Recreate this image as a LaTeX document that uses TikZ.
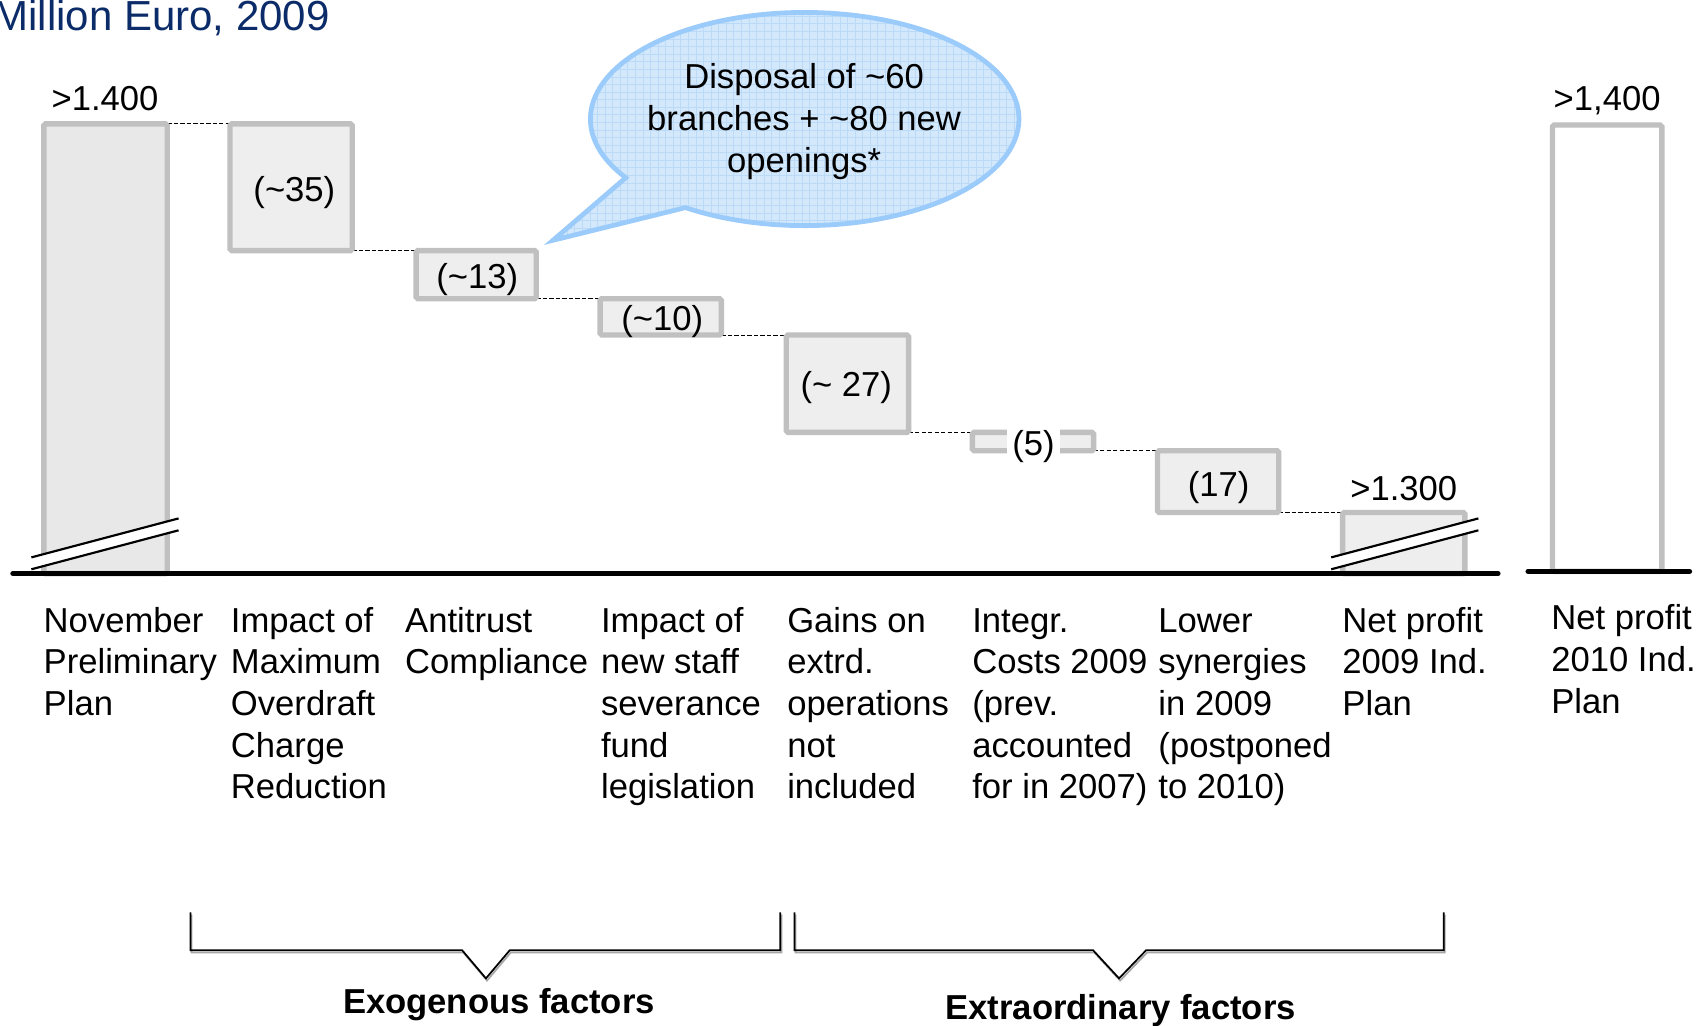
\documentclass[tikz,border=0pt]{standalone}
\usepackage{fontspec}
\setmainfont{Liberation Sans}
\usetikzlibrary{fit,backgrounds}

\definecolor{barline}{HTML}{C0C0C0}
\definecolor{barfill}{HTML}{E8E8E8}
\definecolor{boxfill}{HTML}{EEEEEE}
\definecolor{navy}{HTML}{0B2C69}
\definecolor{bubfill}{HTML}{D4E8FC}
\definecolor{bubgrid}{HTML}{BBDAF8}
\definecolor{bubline}{HTML}{9ACBFA}
\newcommand\mytilde{\textasciitilde}

\begin{document}
\begin{tikzpicture}[x=0.5pt,y=-0.5pt,
  wbox/.style={draw=barline, line width=2.5pt, fill=boxfill, inner sep=0pt,
               outer sep=0pt, rounded corners=0.8pt},
  txt/.style={font=\fontsize{16}{19.25}\selectfont, inner sep=0pt},
  cat/.style={txt, align=left, anchor=base west},
  level/.style={line width=0.4pt, dash pattern=on 2pt off 1pt},
  brk/.style={line width=1pt},
  axisline/.style={line width=2.5pt, line cap=round},
  brace/.style={line width=0.8pt},
  braceshadow/.style={line width=0.8pt, black!35},
  gridline/.style={bubgrid, line width=0.3pt}
]
\useasboundingbox (0,0) rectangle (1568,948);

% value levels of the waterfall
\def\La{114.5}\def\Lb{231.5}\def\Lc{276}\def\Ld{309.5}
\def\Le{399.5}\def\Lf{416.5}\def\Lg{473.5}

% title
\node[font=\fontsize{19.4}{23}\selectfont, text=navy, anchor=base east, inner sep=0pt]
  (title) at (305,28) {Million Euro, 2009};

% bars and step boxes
\node[wbox, fill=barfill, fit={(40.5,\La) (154.5,530)}] (bar1) {};
\node[wbox, fit={(212.5,\La) (325.5,\Lb)}] (b35) {};
\node[wbox, fit={(384.5,\Lb) (495.5,\Lc)}] (b13) {};
\node[wbox, fit={(554.5,\Lc) (666.5,\Ld)}] (b10) {};
\node[wbox, fit={(726.5,\Ld) (839.5,\Le)}] (b27) {};
\node[wbox, fit={(898.5,\Le) (1010.5,\Lf)}] (b5) {};
\node[wbox, fit={(1069.5,\Lf) (1181.5,\Lg)}] (b17) {};
\node[wbox, fit={(1240.5,\Lg) (1353.5,530)}] (bar2) {};
\node[wbox, fill=white, fit={(1434.5,115.5) (1535.5,528)}] (bar3) {};

% dashed level connectors
\begin{pgfonlayer}{background}
  \fill[white] (0,0) rectangle (1568,948);
  \draw[level] (bar1.north east) -- (b35.north west);
  \draw[level] (b35.south east) -- (b13.north west);
  \draw[level] (b13.south east) -- (b10.north west);
  \draw[level] (b10.south east) -- (b27.north west);
  \draw[level] (b27.south east) -- (b5.north west);
  \draw[level] (b5.south east) -- (b17.north west);
  \draw[level] (b17.south east) -- (bar2.north west);
\end{pgfonlayer}

% values
\node[txt, anchor=base] (v1) at (97,102) {>1.400};
\node[txt] (t35) at (272,177.5) {(\mytilde35)};
\node[txt] (t13) at (441,258.5) {(\mytilde13)};
\node[txt] (t10) at (612,297.5) {(\mytilde10)};
\node[txt] (t27) at (782,358.5) {(\mytilde\ 27)};
\node[txt, fill=white, inner xsep=2.5pt, inner ysep=1pt] (t5) at (955,413) {(5)};
\node[txt] (t17) at (1126,450.5) {(17)};
\node[txt, anchor=base] (v2) at (1297,462) {>1.300};
\node[txt, anchor=base] (v3) at (1485,102) {>1,400};

% axis break marks
\fill[white] (29,526) -- (165,490) -- (165,479) -- (29,515) -- cycle;
\draw[brk] (29,526) -- (165,490);
\draw[brk] (29,515) -- (165,479);
\fill[white] (1230,526) -- (1366,490) -- (1366,479) -- (1230,515) -- cycle;
\draw[brk] (1230,526) -- (1366,490);
\draw[brk] (1230,515) -- (1366,479);

% base lines
\draw[axisline] (12,530) -- (1384,530);
\draw[axisline] (1412,528) -- (1561,528);

% speech bubble
\def\bubble{(511,222) -- (578.2,164.2)
  arc[start angle=146.6, end angle=483.8, x radius=198, y radius=98.5] -- cycle}
\fill[bubfill] \bubble;
\begin{scope}
  \clip \bubble;
  \foreach \gx in {503,510,...,947} \draw[gridline] (\gx,5) -- (\gx,230);
  \foreach \gy in {8,15,...,230} \draw[gridline] (500,\gy) -- (947,\gy);
\end{scope}
\draw[bubline, line width=2.2pt, line join=miter] \bubble;
% multi-line nodes are anchored at the baseline of their last line
\node[txt, align=center, anchor=base] (bubtext) at (743,159)
  {Disposal of \mytilde60\\branches + \mytilde80 new\\openings*};

% category labels
\node[cat] (c1) at (40,661) {November\\Preliminary\\Plan};
\node[cat] (c2) at (213,738) {Impact of\\Maximum\\Overdraft\\Charge\\Reduction};
\node[cat] (c3) at (374,622.5) {Antitrust\\Compliance};
\node[cat] (c4) at (555,738) {Impact of\\new staff\\severance\\fund\\legislation};
\node[cat] (c5) at (727,738) {Gains on\\extrd.\\operations\\not\\included};
\node[cat] (c6) at (898,738) {Integr.\\Costs 2009\\(prev.\\accounted\\for in 2007)};
\node[cat] (c7) at (1070,738) {Lower\\synergies\\in 2009\\(postponed\\to 2010)};
\node[cat] (c8) at (1240,661) {Net profit\\2009 Ind.\\Plan};
\node[cat] (c9) at (1433,659) {Net profit\\2010 Ind.\\Plan};

% group braces
\draw[braceshadow] (177,845) -- (177,880) -- (428,880) -- (450,906) -- (472,880) -- (722,880) -- (722,845);
\draw[brace] (176,843) -- (176,878) -- (427,878) -- (449,904) -- (471,878) -- (721,878) -- (721,843);
\draw[braceshadow] (735,845) -- (735,880) -- (1011,880) -- (1035,906) -- (1060,880) -- (1335,880) -- (1335,845);
\draw[brace] (734,843) -- (734,878) -- (1010,878) -- (1034,904) -- (1059,878) -- (1334,878) -- (1334,843);
\node[txt, font=\fontsize{16}{19.25}\selectfont\bfseries, anchor=base] (g1) at (461,936) {Exogenous factors};
\node[txt, font=\fontsize{16}{19.25}\selectfont\bfseries, anchor=base] (g2) at (1035.5,942) {Extraordinary factors};
\end{tikzpicture}
\end{document}
